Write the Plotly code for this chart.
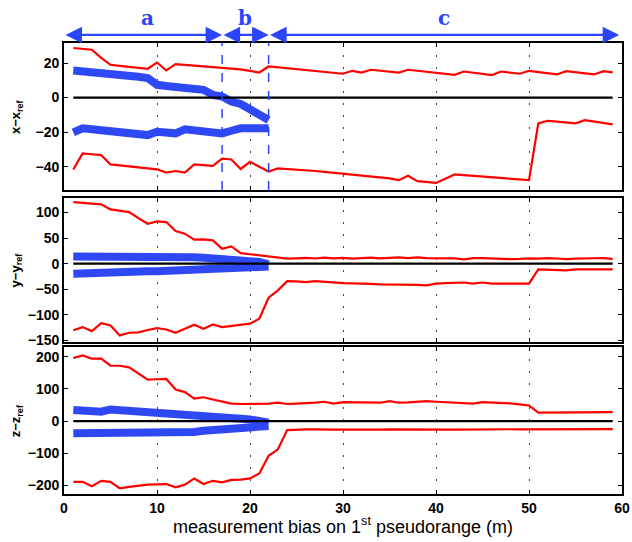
import plotly.graph_objects as go
from plotly.subplots import make_subplots

# ── Data ──────────────────────────────────────────────────────────────────────

X = list(range(1, 60))          # measurement bias on 1st pseudorange, 1..59 m
X_BLUE = list(range(1, 23))     # blue envelopes only run to 22 m

X_HI = [28.7, 28.3, 27.7, 23.0, 19.0, 18.4, 17.8, 17.2, 16.7, 20.3,
        15.7, 19.4, 19.0, 18.6, 18.2, 17.8, 17.3, 16.8, 16.3, 15.5,
        14.5, 18.0, 17.5, 17.0, 16.5, 16.0, 15.4, 14.9, 14.3, 13.8,
        15.5, 14.5, 16.1, 15.6, 15.0, 14.5, 16.1, 15.5, 14.8, 14.2,
        13.7, 13.2, 15.1, 14.4, 13.7, 13.0, 15.1, 14.5, 13.8, 15.5,
        14.8, 14.1, 13.4, 15.3, 14.7, 14.0, 13.4, 15.3, 14.6]
X_LO = [-41.6, -32.3, -32.8, -33.3, -38.7, -39.3, -39.8, -40.4, -41.0, -41.5,
        -43.4, -42.5, -43.4, -38.7, -39.1, -39.5, -35.3, -35.8, -41.3, -37.2,
        -40.0, -42.8, -41.0, -41.3, -41.6, -42.0, -42.5, -43.0, -43.5, -44.0,
        -44.5, -45.0, -45.6, -46.2, -46.8, -47.8, -45.3, -48.4, -48.8, -49.4,
        -47.0, -44.5, -44.9, -45.3, -45.7, -46.1, -46.5, -46.9, -47.3, -47.8,
        -14.9, -13.4, -13.9, -14.4, -14.9, -13.1, -13.9, -14.7, -15.5]
X_BLUE_HI = [15.7, 15.3, 15.0, 14.6, 14.2, 13.5, 12.8, 12.1, 11.3, 7.4, 6.7,
             6.0, 5.5, 5.0, 4.5, 1.6, 0.6, -2.3, -3.7, -6.8, -9.9, -13.0]
X_BLUE_LO = [-20.1, -17.8, -18.3, -18.8, -19.3, -19.8, -20.3, -21.0, -21.7, -19.8, -20.3,
             -20.7, -18.4, -19.0, -19.6, -20.2, -20.7, -19.2, -17.8, -17.8, -17.8, -17.8]

Y_HI = [120.3, 118.8, 117.3, 115.8, 106.0, 104.0, 100.8, 89.0, 78.0, 82.6,
        81.3, 63.7, 58.6, 46.9, 47.5, 45.5, 29.3, 33.8, 20.7, 18.5,
        16.5, 14.3, 12.0, 9.8, 10.5, 11.5, 10.2, 11.8, 10.4, 11.5,
        10.0, 11.2, 12.0, 10.3, 11.5, 12.3, 10.8, 12.5, 11.0, 11.2,
        10.6, 10.5, 8.5, 10.8, 11.0, 10.4, 9.0, 9.0, 9.5, 10.5,
        9.8, 11.0, 10.2, 8.8, 9.9, 10.9, 10.6, 10.8, 9.5]
Y_LO = [-130.0, -123.8, -131.6, -116.0, -120.5, -140.0, -134.8, -134.0, -129.5, -125.8,
        -128.5, -134.8, -127.0, -119.0, -127.0, -118.6, -123.8, -121.5, -119.5, -117.0,
        -107.5, -66.4, -52.0, -34.0, -34.5, -36.0, -34.0, -35.5, -36.5, -37.9,
        -38.5, -38.5, -39.2, -40.4, -40.4, -40.4, -40.6, -41.5, -42.4, -38.9,
        -38.0, -37.0, -36.7, -39.0, -36.7, -39.0, -39.0, -39.0, -39.0, -39.0,
        -11.1, -11.5, -12.2, -13.0, -11.0, -11.2, -11.0, -11.0, -11.0]
Y_BLUE_HI = [14.3, 14.4, 14.8, 14.6, 14.5, 14.6, 14.7, 14.8, 14.8, 14.8, 14.4,
             13.9, 13.2, 12.5, 11.8, 10.8, 9.8, 8.8, 7.6, 6.4, 3.5, -1.5]
Y_BLUE_LO = [-19.5, -18.5, -18.2, -17.0, -16.4, -16.0, -15.6, -15.2, -14.8, -14.5, -14.0,
             -13.5, -12.9, -12.3, -11.7, -11.0, -10.2, -9.5, -8.6, -7.8, -6.8, -5.5]

Z_HI = [196, 204, 194, 194, 172, 172, 167, 148, 129, 130,
        131, 98, 90, 70, 74, 67, 60, 54, 53, 53,
        53, 54, 57, 53, 54, 55, 57, 60, 54, 59,
        59, 59, 59, 57, 62, 57, 58, 60, 62, 60,
        58, 57, 56, 54, 59, 58, 57, 55, 52, 48.5,
        26, 26, 26, 26, 26.5, 27, 27, 28, 28]
Z_LO = [-189, -189, -203, -186, -189, -209.6, -205, -201, -198, -197,
        -196, -206, -198, -178.6, -196, -186, -191, -183, -182, -178.6,
        -163, -108, -88, -28, -26, -26, -26, -27.6, -27, -26.5,
        -27, -27, -26.5, -26.5, -26, -26.5, -27, -27, -27, -28,
        -27, -26.5, -26, -25.5, -25.5, -25.5, -25, -25.5, -26, -26,
        -26, -25, -25.5, -25.5, -25.5, -25, -25, -24.5, -25]
Z_BLUE_HI = [34, 34, 34, 29, 36, 33.5, 31.5, 29.5, 27.7, 26, 23.5,
             21, 18.5, 16, 13, 11.5, 10, 8.5, 6.8, 5, 2, -5]
Z_BLUE_LO = [-38, -38, -37.5, -37.5, -37, -37, -36.5, -36, -35, -34, -35,
             -36, -37, -34, -30, -28, -26, -22, -19.5, -17, -16, -15.5]

PANELS = [
    ("x\u2212x<sub>ref</sub>", X_HI, X_LO, X_BLUE_HI, X_BLUE_LO, [-53.5, 31.6], [-40, -20, 0, 20]),
    ("y\u2212y<sub>ref</sub>", Y_HI, Y_LO, Y_BLUE_HI, Y_BLUE_LO, [-152, 128], [-150, -100, -50, 0, 50, 100]),
    ("z\u2212z<sub>ref</sub>", Z_HI, Z_LO, Z_BLUE_HI, Z_BLUE_LO, [-227, 229], [-200, -100, 0, 100, 200]),
]

# Region boundaries (m) for the a / b / c arrows
REGION_EDGES = [0, 17, 22, 59.7]
REGION_LABELS = ["a", "b", "c"]

# ── Styling ───────────────────────────────────────────────────────────────────

RED = "#ff0000"
BLUE = "#2f48f5"
ARROW_BLUE = "#2b45ff"
FONT = "Liberation Sans, Arial, sans-serif"

DOMAINS = [[0.674, 1.0], [0.338, 0.656], [0.0, 0.325]]

fig = make_subplots(rows=3, cols=1, shared_xaxes=True, vertical_spacing=0.02)

for i, (label, hi, lo, bhi, blo, yrange, yticks) in enumerate(PANELS, start=1):
    for ys in (hi, lo):
        fig.add_trace(go.Scatter(x=X, y=ys, mode="lines",
                                 line=dict(color=RED, width=2.2)), row=i, col=1)
    # zero reference line
    fig.add_shape(type="line", x0=X[0], x1=X[-1], y0=0, y1=0,
                  line=dict(color="black", width=2.2), row=i, col=1)
    for ys in (bhi, blo):
        fig.add_trace(go.Scatter(x=X_BLUE, y=ys, mode="lines",
                                 line=dict(color=BLUE, width=8)), row=i, col=1)

    fig.update_yaxes(
        row=i, col=1, range=yrange, tickvals=yticks, domain=DOMAINS[i - 1],
        automargin=False, showgrid=False, zeroline=False,
        showline=True, mirror="ticks", linecolor="black", linewidth=1.8,
        ticks="inside", ticklen=4, tickcolor="black",
        tickfont=dict(size=14, family=FONT, color="black", weight="bold"),
    )
    fig.update_xaxes(
        row=i, col=1, range=[0, 60], tickvals=[0, 10, 20, 30, 40, 50, 60],
        automargin=False,
        showgrid=True, gridcolor="#444", griddash="2px,10px", gridwidth=1,
        zeroline=False, showline=True, mirror="ticks", linecolor="black", linewidth=1.8,
        ticks="inside", ticklen=4, tickcolor="black",
        showticklabels=(i == 3),
        tickfont=dict(size=14, family=FONT, color="black", weight="bold"),
    )
    # y-axis label placed by hand so it doesn't push the margins
    fig.add_annotation(
        x=-0.085, y=sum(DOMAINS[i - 1]) / 2, xref="paper", yref="paper",
        xanchor="center", yanchor="middle",
        text=f"<b>{label}</b>", textangle=-90, showarrow=False,
        font=dict(size=13, family=FONT, color="black"),
    )

fig.add_annotation(
    x=0.5, y=-0.1, xref="paper", yref="paper", xanchor="center", yanchor="bottom",
    text="measurement bias on 1<sup>st</sup> pseudorange (m)", showarrow=False,
    font=dict(size=18, family=FONT, color="black"),
)

# dashed region boundaries in the top panel
for xb in REGION_EDGES[1:3]:
    fig.add_shape(type="line", xref="x", yref="y domain", x0=xb, x1=xb, y0=0, y1=1,
                  line=dict(color=ARROW_BLUE, width=1.5, dash="dash"))

# double-headed arrows and their letters above the plot
for k, lab in enumerate(REGION_LABELS):
    x0, x1 = REGION_EDGES[k], REGION_EDGES[k + 1]
    fig.add_annotation(
        x=x1, y=1.018, xref="x", yref="paper",
        ax=x0, ay=0, axref="x", ayref="pixel",
        text="", showarrow=True, arrowhead=2, arrowside="end+start",
        arrowsize=1.5, arrowwidth=2.2, arrowcolor=ARROW_BLUE,
    )
    fig.add_annotation(
        x=(x0 + x1) / 2 + (0.5 if k == 0 else 0), y=1.0555, xref="x", yref="paper",
        xanchor="center", yanchor="middle",
        text=f"<b>{lab}</b>", showarrow=False,
        font=dict(size=20, family="DejaVu Serif, serif", color=ARROW_BLUE),
    )

fig.update_layout(
    width=632, height=542,
    showlegend=False,
    plot_bgcolor="white",
    paper_bgcolor="white",
    font=dict(family=FONT, size=13, color="black"),
    margin=dict(l=64, r=10, t=43, b=48, autoexpand=False),
)

# the page's default body margin would shift the whole figure by 8px
fig.write_html("out.html", config={"displayModeBar": False},
               post_script="document.body.style.margin='0';")
